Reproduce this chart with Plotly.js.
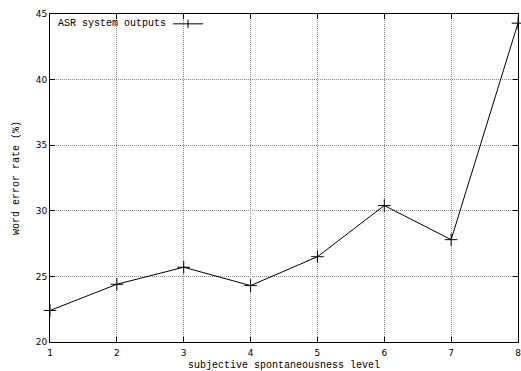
<!DOCTYPE html>
<html><head><meta charset="utf-8">
<script src="https://cdn.plot.ly/plotly-3.0.1.min.js"></script>
<style>html,body{margin:0;padding:0;background:#fff}</style>
</head><body><div id="chart" style="width:521px;height:371px"></div>
<script>
const levels = [1, 2, 3, 4, 5, 6, 7, 8];
const werValues = [22.4, 24.4, 25.7, 24.3, 26.5, 30.4, 27.8, 44.3];
const seriesName = "ASR system outputs";
const xTicks = [1, 2, 3, 4, 5, 6, 7, 8];
const yTicks = [20, 25, 30, 35, 40, 45];

const mono = "'Liberation Mono', 'Courier New', monospace";
const trace = {
  x: levels, y: werValues, type: 'scatter', mode: 'lines+markers',
  name: seriesName, showlegend: false,
  line: {color: '#000', width: 1},
  marker: {symbol: 'cross-thin-open', size: 9, line: {color: '#000', width: 1}, color: '#000'},
  cliponaxis: false
};
const axisCommon = {
  showline: true, linecolor: '#000', linewidth: 1, mirror: 'ticks',
  ticks: 'inside', ticklen: 5, tickcolor: '#000', tickwidth: 1,
  showgrid: true, gridcolor: '#888', griddash: '1px,1px', gridwidth: 1,
  zeroline: false, ticklabeloverflow: 'allow',
  tickfont: {family: "'DejaVu Sans', sans-serif", size: 9, color: '#000'}
};
const layout = {
  width: 521, height: 371,
  margin: {l: 50, r: 3, t: 14, b: 29},
  paper_bgcolor: '#fff', plot_bgcolor: '#fff',
  xaxis: Object.assign({}, axisCommon, {
    range: [1, 8], tickvals: xTicks, ticktext: xTicks.map(String), ticklabelstandoff: 2,
    title: {text: 'subjective spontaneousness level', standoff: 4,
      font: {family: mono, size: 10, color: '#000'}}
  }),
  yaxis: Object.assign({}, axisCommon, {
    range: [20, 45], tickvals: yTicks, ticktext: yTicks.map(String),
    title: {text: 'word error rate (%)', standoff: 14,
      font: {family: mono, size: 10, color: '#000'}}
  }),
  annotations: [{
    xref: 'paper', yref: 'paper', x: 0.012, y: 0.97, xanchor: 'left', yanchor: 'middle',
    text: seriesName, showarrow: false,
    font: {family: mono, size: 10, color: '#000'}
  }],
  shapes: [
    {type: 'line', xref: 'paper', yref: 'paper', x0: 0.263, x1: 0.327, y0: 0.97, y1: 0.97, line: {color: '#000', width: 1}},
    {type: 'line', xref: 'paper', yref: 'paper', x0: 0.295, x1: 0.295, y0: 0.957, y1: 0.983, line: {color: '#000', width: 1}}
  ]
};
Plotly.newPlot('chart', [trace], layout, {displayModeBar: false, staticPlot: true});
</script></body></html>
